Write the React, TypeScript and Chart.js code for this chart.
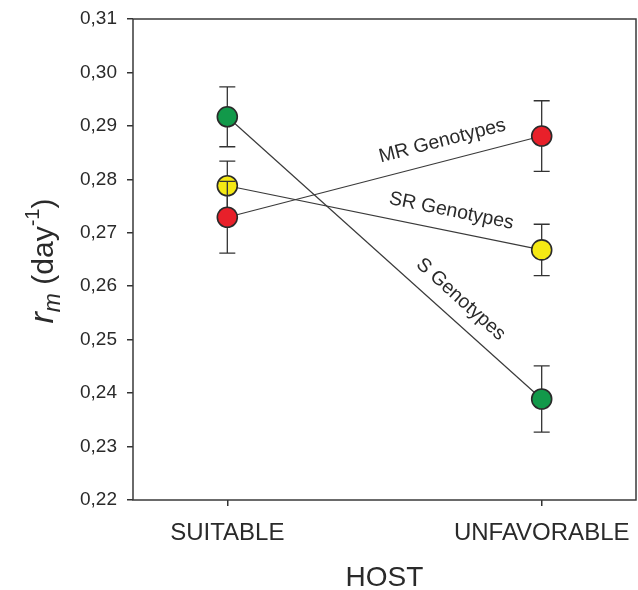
import React, { useEffect, useRef } from "react";
import { Chart, registerables } from "chart.js";

Chart.register(...registerables);

// ---- data ----
const categories = ["SUITABLE", "UNFAVORABLE"];
const hostPositions = [1, 2];
const seriesNames = ["S Genotypes", "SR Genotypes", "MR Genotypes"];
const sMeans = [0.2917, 0.2389];
const sErr = [0.0056, 0.0062];
const srMeans = [0.2788, 0.2668];
const srErr = [0.0046, 0.0048];
const mrMeans = [0.2729, 0.2881];
const mrErr = [0.0067, 0.0066];
const yTicks = [0.22, 0.23, 0.24, 0.25, 0.26, 0.27, 0.28, 0.29, 0.30, 0.31];

const seriesColors = ["#12994a", "#f5e914", "#e8202a"];
const FONT = "'Liberation Sans', Arial, sans-serif";
const INK = "#2a2a2a";

const means = [sMeans, srMeans, mrMeans];
const errs = [sErr, srErr, mrErr];

const frameAndErrors = {
  id: "frameAndErrors",
  beforeDatasetsDraw(chart: any) {
    const { ctx, chartArea } = chart;
    ctx.save();
    ctx.strokeStyle = "#3a3a3a";
    ctx.lineWidth = 1.5;
    ctx.strokeRect(chartArea.left, chartArea.top, chartArea.right - chartArea.left, chartArea.bottom - chartArea.top);
    ctx.restore();
  },
  beforeDatasetDraw(chart: any, args: any) {
    const idx = args.index;
    const { ctx } = chart;
    const xs = chart.scales.x;
    const ys = chart.scales.y;
    ctx.save();
    ctx.strokeStyle = "#333";
    ctx.lineWidth = 1.3;
    hostPositions.forEach((hx, i) => {
      const m = means[idx][i];
      const e = errs[idx][i];
      const px = xs.getPixelForValue(hx);
      const top = ys.getPixelForValue(m + e);
      const bot = ys.getPixelForValue(m - e);
      ctx.beginPath();
      ctx.moveTo(px, top);
      ctx.lineTo(px, bot);
      ctx.moveTo(px - 8, top);
      ctx.lineTo(px + 8, top);
      ctx.moveTo(px - 8, bot);
      ctx.lineTo(px + 8, bot);
      ctx.stroke();
    });
    ctx.restore();
  },
  afterDraw(chart: any) {
    const { ctx } = chart;
    const xs = chart.scales.x;
    const ys = chart.scales.y;
    // series labels along lines
    ctx.save();
    ctx.fillStyle = INK;
    ctx.font = `19.5px ${FONT}`;
    ctx.textAlign = "center";
    ctx.textBaseline = "middle";
    means.forEach((mv, idx) => {
      const x1 = xs.getPixelForValue(hostPositions[0]);
      const y1 = ys.getPixelForValue(mv[0]);
      const x2 = xs.getPixelForValue(hostPositions[1]);
      const y2 = ys.getPixelForValue(mv[1]);
      const dx = x2 - x1;
      const dy = y2 - y1;
      const len = Math.hypot(dx, dy);
      const ux = dx / len;
      const uy = dy / len;
      const t = 0.7;
      const off = 20;
      const cx = x1 + dx * t + uy * off;
      const cy = y1 + dy * t - ux * off;
      ctx.save();
      ctx.translate(cx, cy);
      ctx.rotate(Math.atan2(dy, dx));
      ctx.fillText(seriesNames[idx], 0, 0);
      ctx.restore();
    });
    ctx.restore();

    // y axis title: r_m (day^-1)
    ctx.save();
    const parts = [
      { text: "r", font: `italic 34px ${FONT}`, dy: 0 },
      { text: "m", font: `italic 23px ${FONT}`, dy: 7 },
      { text: " (day", font: `30px ${FONT}`, dy: 0 },
      { text: "-1", font: `20px ${FONT}`, dy: -14 },
      { text: ")", font: `30px ${FONT}`, dy: 0 },
    ];
    let total = 0;
    const widths = parts.map((p) => {
      ctx.font = p.font;
      const w = ctx.measureText(p.text).width;
      total += w;
      return w;
    });
    ctx.translate(53, 261);
    ctx.rotate(-Math.PI / 2);
    ctx.fillStyle = INK;
    ctx.textBaseline = "alphabetic";
    ctx.textAlign = "left";
    let x = -total / 2;
    parts.forEach((p, i) => {
      ctx.font = p.font;
      ctx.fillText(p.text, x, p.dy);
      x += widths[i];
    });
    ctx.restore();
  },
};

export default function App() {
  const ref = useRef<HTMLCanvasElement>(null);
  useEffect(() => {
    if (!ref.current) return;
    const datasets = means.map((mv, idx) => ({
      label: seriesNames[idx],
      data: hostPositions.map((hx, i) => ({ x: hx, y: mv[i] })),
      showLine: true,
      borderColor: "#3a3a3a",
      borderWidth: 1.2,
      pointRadius: 10,
      pointBorderWidth: 1.6,
      pointBorderColor: "#2a2a2a",
      pointBackgroundColor: seriesColors[idx],
      order: 3 - idx,
    }));
    const chart = new Chart(ref.current, {
      type: "scatter",
      data: { datasets },
      options: {
        animation: false,
        responsive: false,
        events: [],
        layout: { autoPadding: false, padding: { left: 0, right: 2, top: 19, bottom: 0 } },
        plugins: { legend: { display: false }, tooltip: { enabled: false } },
        scales: {
          x: {
            type: "linear",
            min: 0.7,
            max: 2.3,
            afterFit(scale: any) {
              scale.height = 90;
              scale.paddingLeft = 0;
              scale.paddingRight = 0;
            },
            afterBuildTicks(scale: any) {
              scale.ticks = hostPositions.map((v) => ({ value: v }));
            },
            grid: { display: true, drawOnChartArea: false, drawTicks: true, tickLength: 6, color: "#333", lineWidth: 1.5 },
            border: { display: false },
            ticks: {
              autoSkip: false,
              maxRotation: 0,
              padding: 13,
              color: INK,
              font: { family: FONT, size: 24 },
              callback: (v: any) => {
                const i = hostPositions.indexOf(Number(v));
                return i >= 0 ? categories[i] : "";
              },
            },
            title: {
              display: true,
              text: "HOST",
              color: INK,
              font: { family: FONT, size: 28, lineHeight: 1 },
              padding: { top: 0, bottom: -2 },
            },
          },
          y: {
            type: "linear",
            min: 0.22,
            max: 0.31,
            afterFit(scale: any) {
              scale.width = 133;
              scale.paddingTop = 0;
              scale.paddingBottom = 0;
            },
            afterBuildTicks(scale: any) {
              scale.ticks = yTicks.map((v) => ({ value: v }));
            },
            grid: { display: true, drawOnChartArea: false, drawTicks: true, tickLength: 6, color: "#333", lineWidth: 1.5 },
            border: { display: false },
            ticks: {
              padding: 10,
              color: INK,
              font: { family: FONT, size: 19 },
              callback: (v: any) => Number(v).toFixed(2).replace(".", ","),
            },
          },
        },
      },
      plugins: [frameAndErrors],
    });
    return () => chart.destroy();
  }, []);
  return (
    <div style={{ position: "absolute", left: 0, top: 0, width: 638, height: 590, background: "#fff" }}>
      <canvas ref={ref} width={638} height={590} style={{ display: "block" }} />
    </div>
  );
}
